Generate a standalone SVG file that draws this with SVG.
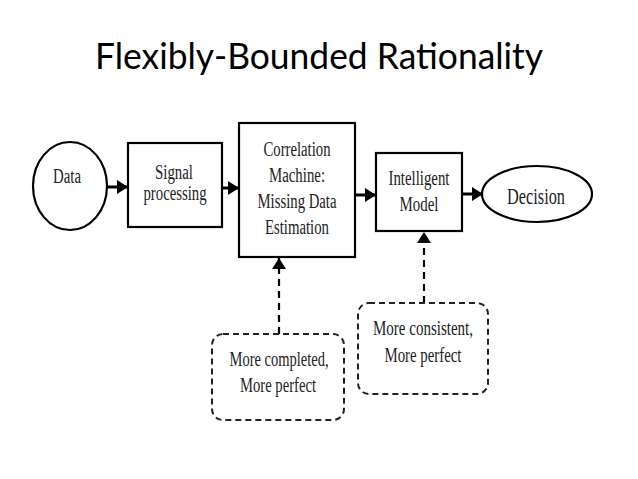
<svg xmlns="http://www.w3.org/2000/svg" width="638" height="479" viewBox="0 0 638 479">
<style>
.box{fill:#fff;stroke:#000;stroke-width:2.2}
.dbox{fill:none;stroke:#222;stroke-width:2;stroke-dasharray:6 4}
.t{font-family:"Liberation Serif","Times New Roman",serif;font-size:20px;fill:#222;text-anchor:middle}
.n{font-size:21px}
.conn{stroke:#000;stroke-width:3;fill:none}
.dconn{stroke:#000;stroke-width:2.2;fill:none;stroke-dasharray:7 5}
.title{font-family:Lato,"Open Sans",sans-serif;font-size:36px;fill:#000}
</style>
<defs>
<marker id="ah" markerUnits="userSpaceOnUse" markerWidth="12" markerHeight="14" refX="11" refY="7" orient="auto">
<path d="M0,0 L11,7 L0,14 Z" fill="#000"/>
</marker>
</defs>
<rect width="638" height="479" fill="#fff"/>
<text class="title" x="95" y="69" textLength="448" lengthAdjust="spacingAndGlyphs">Flexibly-Bounded Rationality</text>

<g id="connectors">
<line class="conn" x1="107" y1="187" x2="128" y2="187" marker-end="url(#ah)"/>
<line class="conn" x1="222" y1="188" x2="239" y2="188" marker-end="url(#ah)"/>
<line class="conn" x1="355" y1="195" x2="376" y2="195" marker-end="url(#ah)"/>
<line class="conn" x1="462" y1="194" x2="483" y2="194" marker-end="url(#ah)"/>
<line class="dconn" x1="279" y1="334" x2="279" y2="258" marker-end="url(#ah)"/>
<line class="dconn" x1="424" y1="303" x2="424" y2="232" marker-end="url(#ah)"/>
</g>

<g id="data">
<ellipse class="box" cx="70" cy="186" rx="37" ry="44"/>
<text class="t" x="67" y="183" textLength="28" lengthAdjust="spacingAndGlyphs">Data</text>
</g>
<g id="signal">
<rect class="box" x="128" y="143" width="94" height="84"/>
<text class="t" x="174" y="179" textLength="38" lengthAdjust="spacingAndGlyphs">Signal</text>
<text class="t" x="175" y="200" textLength="63" lengthAdjust="spacingAndGlyphs">processing</text>
</g>
<g id="correlation">
<rect class="box" x="239" y="123" width="116" height="134"/>
<text class="t" x="297" y="156" textLength="67" lengthAdjust="spacingAndGlyphs">Correlation</text>
<text class="t" x="297" y="182" textLength="56" lengthAdjust="spacingAndGlyphs">Machine:</text>
<text class="t" x="297" y="208" textLength="79" lengthAdjust="spacingAndGlyphs">Missing Data</text>
<text class="t" x="297" y="234" textLength="64" lengthAdjust="spacingAndGlyphs">Estimation</text>
</g>
<g id="intelligent">
<rect class="box" x="376" y="153" width="86" height="78"/>
<text class="t" x="419" y="185" textLength="61" lengthAdjust="spacingAndGlyphs">Intelligent</text>
<text class="t" x="419" y="211" textLength="39" lengthAdjust="spacingAndGlyphs">Model</text>
</g>
<g id="decision">
<ellipse class="box" cx="537" cy="194" rx="55" ry="28"/>
<text class="t" x="536" y="204" style="font-size:23px" textLength="58" lengthAdjust="spacingAndGlyphs">Decision</text>
</g>
<g id="note1">
<rect class="dbox" x="212" y="334" width="132" height="86" rx="11"/>
<text class="t n" x="279" y="366" textLength="99" lengthAdjust="spacingAndGlyphs">More completed,</text>
<text class="t n" x="278" y="392" textLength="76" lengthAdjust="spacingAndGlyphs">More perfect</text>
</g>
<g id="note2">
<rect class="dbox" x="358" y="303" width="130" height="91" rx="11"/>
<text class="t n" x="423" y="335" textLength="100" lengthAdjust="spacingAndGlyphs">More consistent,</text>
<text class="t n" x="423" y="362" textLength="77" lengthAdjust="spacingAndGlyphs">More perfect</text>
</g>
</svg>
